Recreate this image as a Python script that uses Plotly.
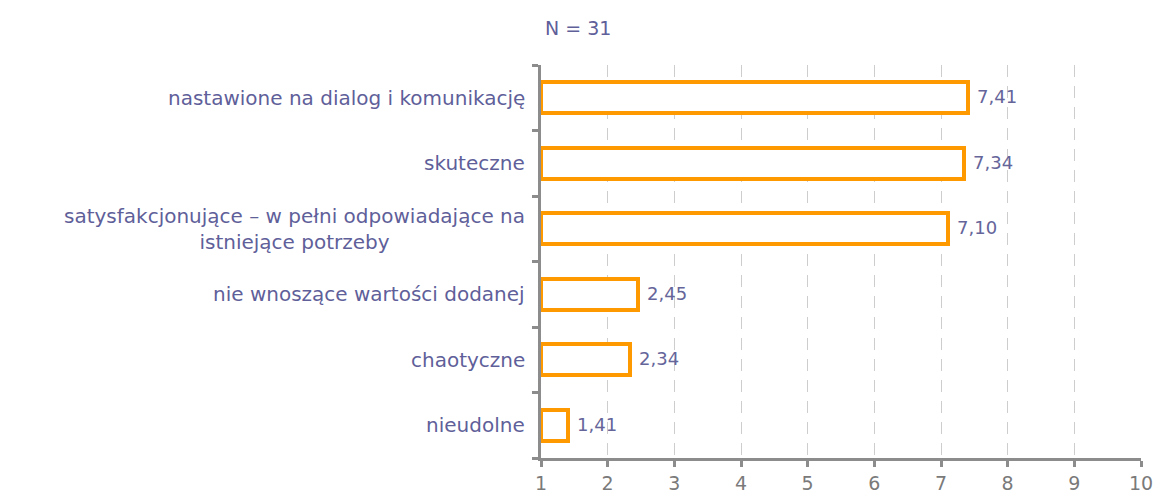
import plotly.graph_objects as go

categories = [
    "nastawione na dialog i komunikację",
    "skuteczne",
    "satysfakcjonujące – w pełni odpowiadające na<br>istniejące potrzeby",
    "nie wnoszące wartości dodanej",
    "chaotyczne",
    "nieudolne",
]
values = [7.41, 7.34, 7.10, 2.45, 2.34, 1.41]
x_ticks = [1, 2, 3, 4, 5, 6, 7, 8, 9, 10]
title_text = "N = 31"

TXT = "#5F5F9A"
AX = "#8C8C8C"
FONT = "DejaVu Sans"

n = len(categories)
ypos = [n - 1 - i for i in range(n)]
labels = [f"{v:.2f}".replace(".", ",") for v in values]

fig = go.Figure()
fig.add_trace(go.Bar(
    x=[v - 1 for v in values],
    base=1,
    y=ypos,
    orientation="h",
    width=0.47,
    marker=dict(color="white", line=dict(color="#FF9900", width=4)),
    hoverinfo="skip",
))

for v, lab, y in zip(values, labels, ypos):
    fig.add_annotation(
        x=v, xref="x", y=y, yref="y",
        text=lab, showarrow=False, xanchor="left", yanchor="middle",
        xshift=7, yshift=1,
        font=dict(family=FONT, size=18, color="#65659A"),
    )

for c, y in zip(categories, ypos):
    fig.add_annotation(
        x=0, xref="paper", y=y, yref="y",
        text=c, showarrow=False, xanchor="right", yanchor="middle",
        align="center", xshift=-14,
        font=dict(family=FONT, size=20, color=TXT),
    )

fig.add_annotation(
    x=0, xref="paper", y=1, yref="paper", yshift=24,
    text=title_text, showarrow=False, xanchor="left", yanchor="bottom", xshift=2,
    font=dict(family=FONT, size=19, color=TXT),
)

fig.update_xaxes(
    range=[1, 10], tickvals=x_ticks, ticktext=[str(t) for t in x_ticks],
    showgrid=True, gridcolor="#CDCDCD", gridwidth=1, griddash="12px,9px",
    showline=True, linecolor=AX, linewidth=3,
    ticks="outside", ticklen=6, tickwidth=3, tickcolor=AX,
    tickfont=dict(family=FONT, size=19, color="#7A7A7A"),
    zeroline=False, automargin=False,
)
fig.update_yaxes(
    range=[-0.5, n - 0.5],
    tickvals=[i - 0.5 for i in range(n + 1)],
    showticklabels=False,
    showgrid=False, zeroline=False,
    showline=True, linecolor=AX, linewidth=3,
    ticks="outside", ticklen=6, tickwidth=3, tickcolor=AX,
    automargin=False,
)
fig.update_layout(
    width=1158, height=494,
    margin=dict(l=541, r=17, t=65, b=36),
    plot_bgcolor="white", paper_bgcolor="white",
    showlegend=False, bargap=0,
    font=dict(family=FONT),
)
fig.write_html(
    "out.html",
    config={"displayModeBar": False},
    post_script="document.body.style.margin='0';document.body.style.overflow='hidden';",
)
